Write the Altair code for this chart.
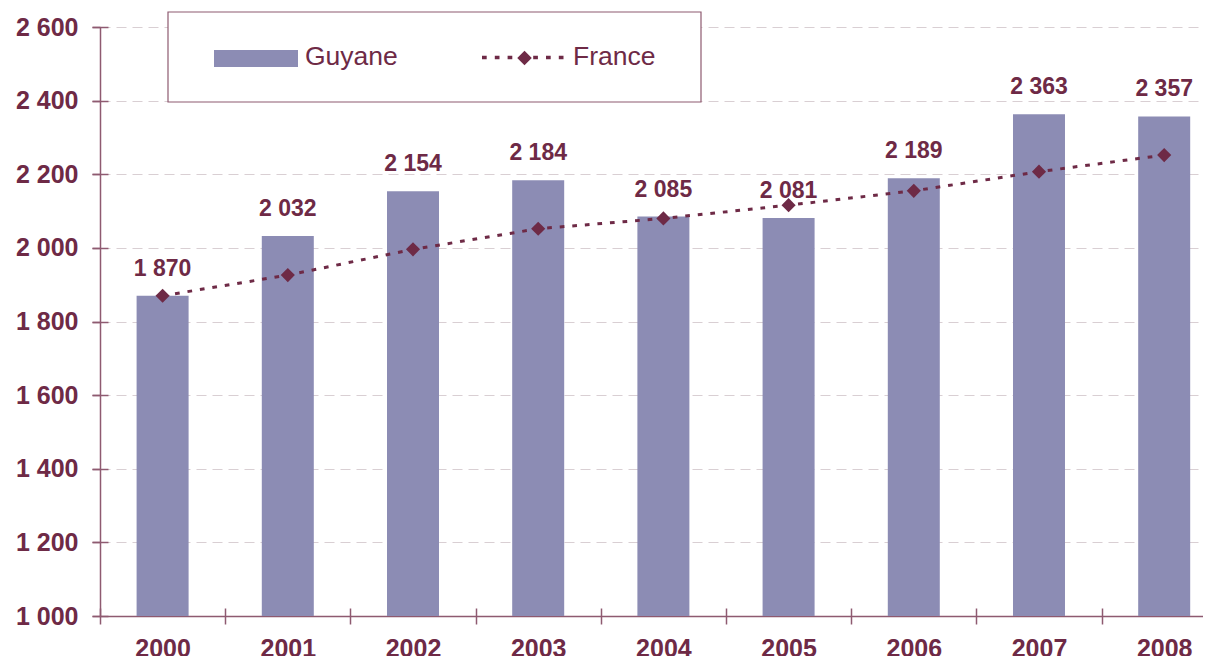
import altair as alt
import pandas as pd

years = [2000, 2001, 2002, 2003, 2004, 2005, 2006, 2007, 2008]
guyane = [1870, 2032, 2154, 2184, 2085, 2081, 2189, 2363, 2357]
france = [1870, 1926, 1996, 2052, 2080, 2116, 2155, 2207, 2252]
y_ticks = [1000, 1200, 1400, 1600, 1800, 2000, 2200, 2400, 2600]
legend_labels = ["Guyane", "France"]

df = pd.DataFrame({"year": years, "guyane": guyane, "france": france})
leg = pd.DataFrame({"label": legend_labels})
one = pd.DataFrame({"k": [0]})
tick_x = [y - 0.5 for y in years]

MAROON = "#6E2A46"
BAR = "#8C8CB4"
AXIS = "#8E5A70"
GRID = "#D9CFD3"
FONT = "Liberation Sans"

x_scale = alt.Scale(domain=[1999.5, 2008.31], nice=False, zero=False, padding=0)
y_scale = alt.Scale(domain=[1000, 2600], nice=False, zero=False, padding=0)
fmt = "replace(format(datum.value, ','), ',', ' ')"

x_axis = alt.Axis(values=years, format="d", title=None, grid=False, ticks=False, tickSize=0,
                  labelPadding=40, labelBaseline="alphabetic", labelFont=FONT, labelFontSize=25,
                  labelFontWeight="bold", labelColor=MAROON, domainColor=AXIS, domainWidth=1.5,
                  labelFlush=False, labelOverlap=False)
y_axis = alt.Axis(values=y_ticks, labelExpr=fmt, title=None, grid=True, gridDash=[10, 6],
                  gridColor=GRID, gridWidth=1.2, tickSize=8, tickColor=AXIS, tickWidth=1.5,
                  labelPadding=14, labelFont=FONT, labelFontSize=25, labelFontWeight="bold",
                  labelColor=MAROON, domainColor=AXIS, domainWidth=1.5, labelFlush=False,
                  labelOverlap=False)

base = alt.Chart(df)

bars = base.mark_bar(color=BAR, size=52).encode(
    x=alt.X("year:Q", scale=x_scale, axis=x_axis),
    y=alt.Y("guyane:Q", scale=y_scale, axis=y_axis),
    y2=alt.datum(1000),
)

line = base.mark_line(color=MAROON, strokeWidth=3, strokeDash=[4.7, 7.9]).encode(
    x=alt.X("year:Q", scale=x_scale, axis=None),
    y=alt.Y("france:Q", scale=y_scale, axis=None),
)

pts = base.mark_point(shape="diamond", filled=True, size=200, color=MAROON, opacity=1).encode(
    x=alt.X("year:Q", scale=x_scale, axis=None),
    y=alt.Y("france:Q", scale=y_scale, axis=None),
)

labels = base.transform_calculate(
    lbl="replace(format(datum.guyane, ','), ',', ' ')"
).mark_text(font=FONT, fontSize=23, fontWeight="bold", color=MAROON, baseline="alphabetic",
            dy=-20).encode(
    x=alt.X("year:Q", scale=x_scale, axis=None),
    y=alt.Y("guyane:Q", scale=y_scale, axis=None),
    text="lbl:N",
)

ticks = base.mark_point(opacity=0).encode(
    x=alt.X("year:Q", scale=x_scale,
            axis=alt.Axis(values=tick_x, orient="bottom", offset=-8, tickSize=16, labels=False,
                          domain=False, grid=False, title=None, tickColor=AXIS, tickWidth=1.5)),
    y=alt.Y("guyane:Q", scale=y_scale,
            axis=alt.Axis(values=y_ticks, orient="left", offset=-8, tickSize=16, labels=False,
                          domain=False, grid=False, title=None, tickColor=AXIS, tickWidth=1.5)),
)

box = alt.Chart(one).mark_rect(fill="white", stroke=AXIS, strokeWidth=1.2).encode(
    x=alt.value(68), x2=alt.value(601), y=alt.value(-15), y2=alt.value(75)
)
swatch = alt.Chart(one).mark_rect(color=BAR).encode(
    x=alt.value(114), x2=alt.value(198), y=alt.value(23), y2=alt.value(40)
)
g_text = alt.Chart(leg).transform_filter(alt.datum.label == "Guyane").mark_text(
    align="left", baseline="alphabetic", font=FONT, fontSize=26.5, color=MAROON
).encode(x=alt.value(205), y=alt.value(38), text="label:N")
f_line = alt.Chart(one).mark_rule(color=MAROON, strokeWidth=3.5, strokeDash=[4.7, 8.1]).encode(
    x=alt.value(382), x2=alt.value(464), y=alt.value(30.5)
)
f_diam = alt.Chart(one).mark_point(shape="diamond", filled=True, size=210, color=MAROON,
                                   opacity=1).encode(x=alt.value(424.5), y=alt.value(31))
f_text = alt.Chart(leg).transform_filter(alt.datum.label == "France").mark_text(
    align="left", baseline="alphabetic", font=FONT, fontSize=26.5, color=MAROON
).encode(x=alt.value(473), y=alt.value(37.5), text="label:N")

chart = alt.layer(
    bars, line, pts, labels, ticks, box, swatch, g_text, f_line, f_diam, f_text
).resolve_axis(x="independent", y="independent").properties(
    width=1103, height=589,
    autosize=alt.AutoSizeParams(type="none"),
    padding={"left": 92, "top": 19, "right": 0, "bottom": 40},
).configure_view(stroke="transparent")

chart.save("out.html", embed_options={"renderer": "svg", "actions": False})
